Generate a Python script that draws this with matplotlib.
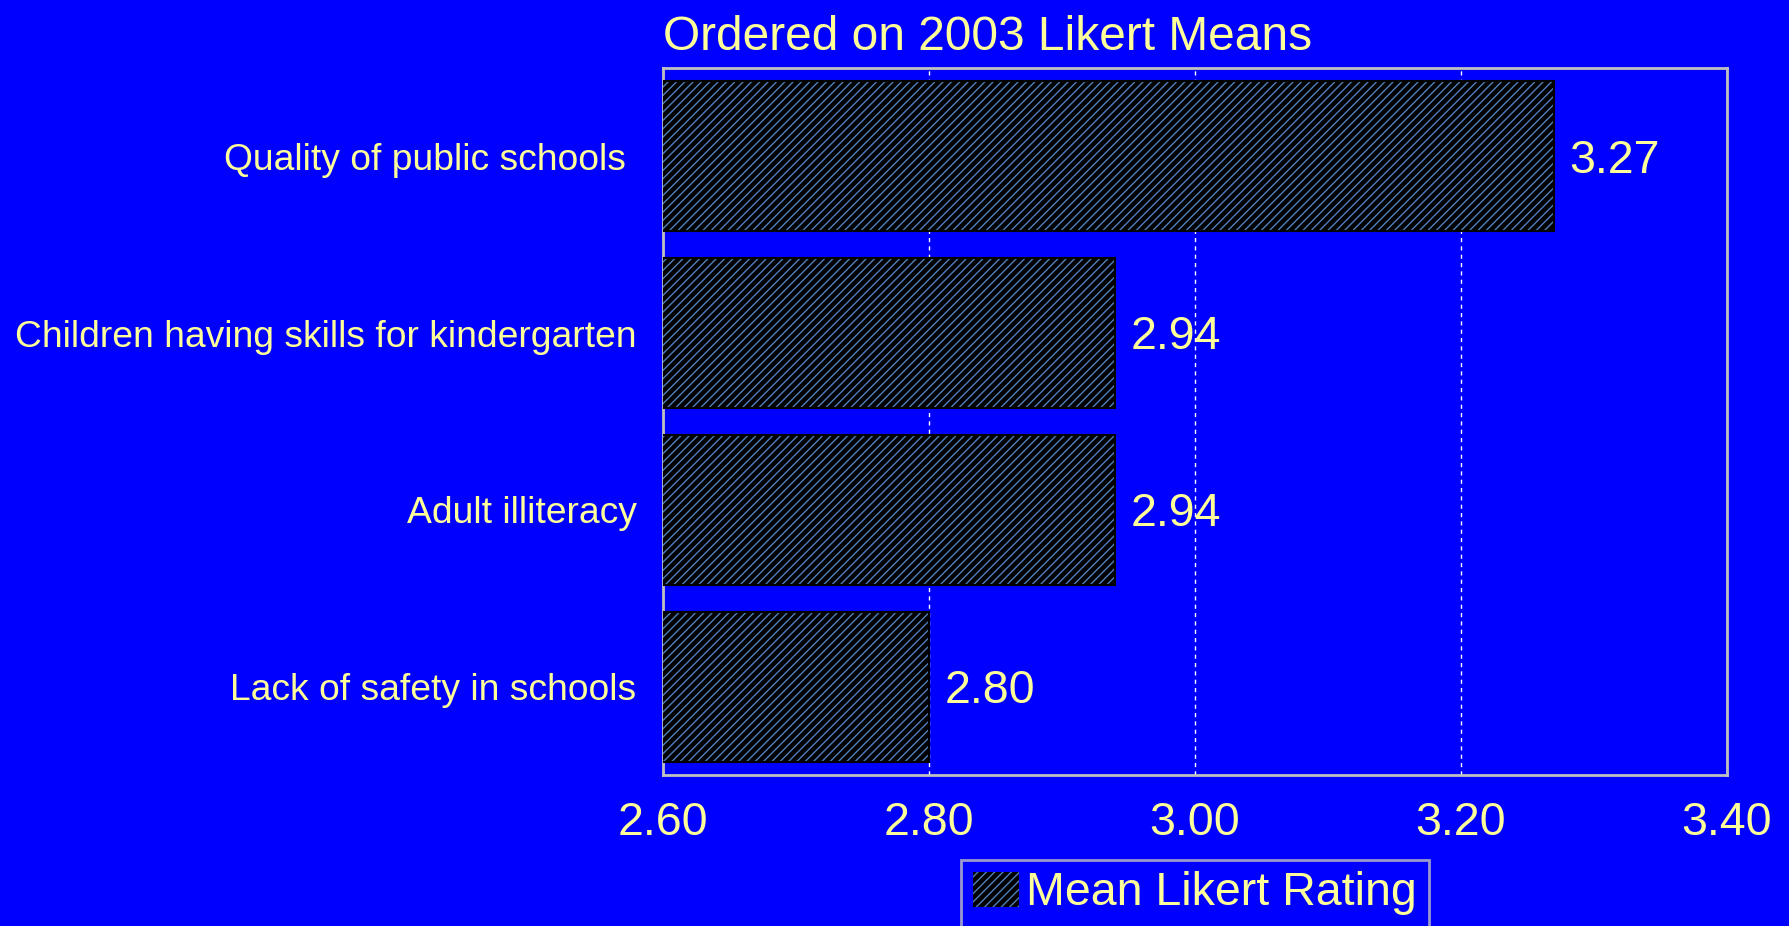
import matplotlib
matplotlib.use("Agg")
import matplotlib.pyplot as plt

# data
categories = ["Quality of public schools ", "Children having skills for kindergarten",
              "Adult illiteracy", "Lack of safety in schools"]
means = [3.27, 2.94, 2.94, 2.80]
xticks = [2.60, 2.80, 3.00, 3.20, 3.40]

plt.rcParams['font.family'] = ['Liberation Sans', 'DejaVu Sans']
plt.rcParams['hatch.linewidth'] = 1.0

BG = '#0000ff'
TXT = '#ffff99'
FRAME = '#c0c0c0'
HATCH = '#4f81bd'

fig = plt.figure(figsize=(17.9, 9.26), dpi=100, facecolor=BG)
ax = fig.add_axes([663 / 1790, 1 - 775 / 926, (1727 - 663) / 1790, (775 - 68) / 926])
ax.set_facecolor(BG)

ypos = list(range(len(categories)))
# hatched fill (hatch takes the edge colour), then a black outline on top
ax.barh(ypos, means, height=0.85, color='black', edgecolor=HATCH,
        hatch='////', linewidth=0, label='Mean Likert Rating', zorder=3)
ax.barh(ypos, means, height=0.85, fill=False, edgecolor='black',
        linewidth=1.5, zorder=3.5)

for y, v in zip(ypos, means):
    ax.annotate(f"{v:.2f}", xy=(v, y), xytext=(11, -3), textcoords='offset points',
                va='center', ha='left', color=TXT, fontsize=33.5, zorder=4)

ax.set_xlim(2.6, 3.4)
ax.set_ylim(3.5, -0.5)
ax.set_xticks(xticks)
ax.set_xticklabels([f"{t:.2f}" for t in xticks])
ax.set_yticks(ypos)
ax.set_yticklabels(categories)
ax.tick_params(axis='x', length=0, pad=19, labelsize=33.5, labelcolor=TXT)
ax.tick_params(axis='y', length=0, pad=19, labelsize=26.8, labelcolor=TXT)

ax.grid(axis='x', color='white', linestyle=(0, (3, 3)), linewidth=1, zorder=1)
ax.set_axisbelow(True)
for sp in ax.spines.values():
    sp.set_color(FRAME)
    sp.set_linewidth(2)

fig.text(663 / 1790, 1 - 50 / 926, "Ordered on 2003 Likert Means", color=TXT,
         fontsize=34.5, ha='left', va='baseline')

leg = ax.legend(loc='upper center', bbox_to_anchor=(0.5, -0.12), frameon=True,
                fancybox=False, facecolor=BG, edgecolor=FRAME, fontsize=33.5,
                labelcolor=TXT, handlelength=1.0, handleheight=0.8,
                handletextpad=0.15, borderpad=0.25, borderaxespad=0)
leg.get_frame().set_linewidth(2)

fig.savefig("out.png", dpi=100, facecolor=BG)
